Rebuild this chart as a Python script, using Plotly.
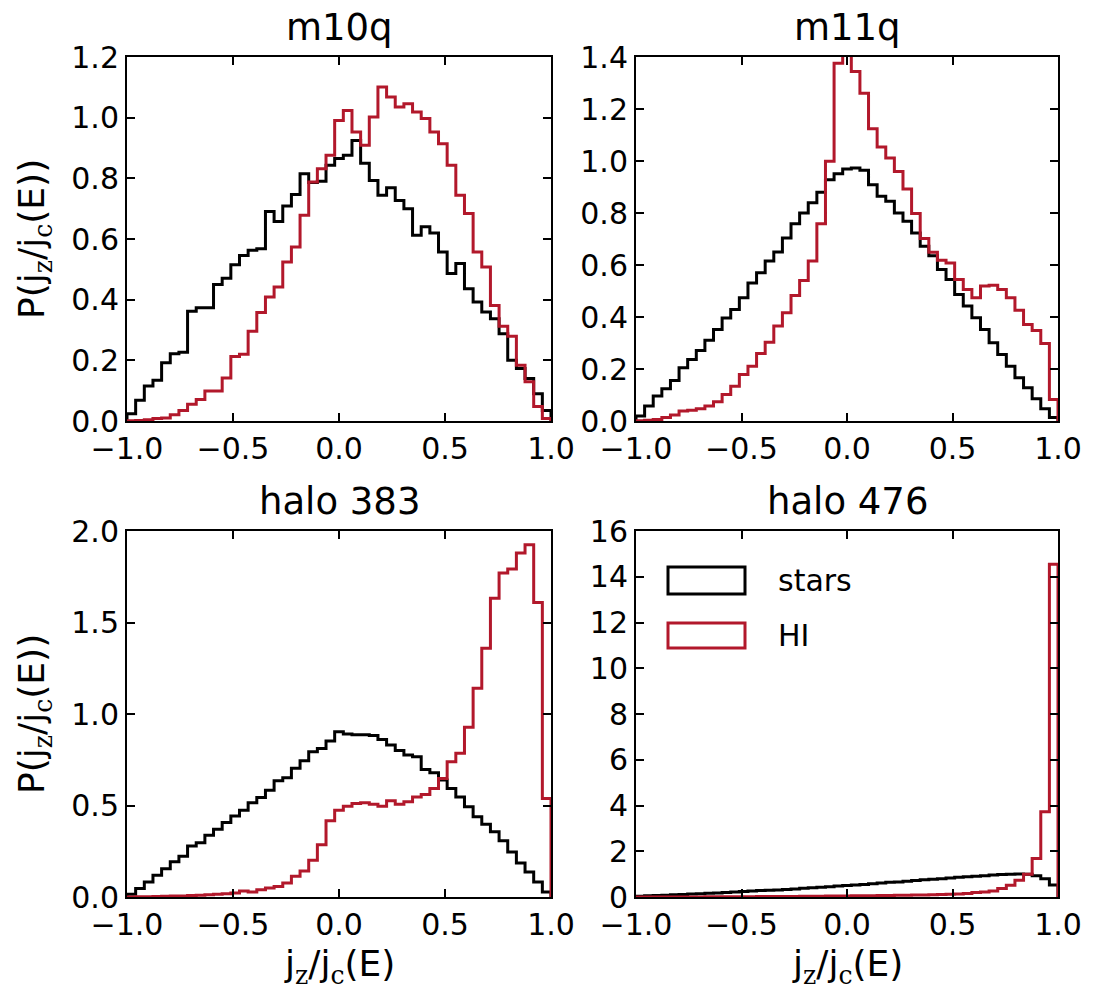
import numpy as np
import plotly.graph_objects as go

# ---------------- data (49 bins between -1 and 1) ----------------
bin_edges = np.linspace(-1.0, 1.0, 50)

m10q_stars = [0.024, 0.068, 0.115, 0.134, 0.192, 0.222, 0.227, 0.362, 0.373, 0.373,
              0.450, 0.471, 0.515, 0.546, 0.563, 0.568, 0.691, 0.658, 0.709, 0.747,
              0.815, 0.786, 0.790, 0.843, 0.865, 0.876, 0.925, 0.850, 0.793, 0.744,
              0.769, 0.727, 0.700, 0.612, 0.640, 0.620, 0.557, 0.486, 0.519, 0.436,
              0.392, 0.359, 0.337, 0.288, 0.200, 0.173, 0.140, 0.090, 0.035]
m10q_hi = [0.001, 0.002, 0.004, 0.008, 0.010, 0.021, 0.035, 0.055, 0.071, 0.099,
           0.099, 0.142, 0.213, 0.220, 0.296, 0.358, 0.409, 0.442, 0.524, 0.574,
           0.678, 0.788, 0.832, 0.876, 0.991, 1.024, 0.953, 0.909, 1.002, 1.101,
           1.068, 1.035, 1.046, 1.019, 0.997, 0.953, 0.914, 0.843, 0.744, 0.684,
           0.557, 0.508, 0.381, 0.312, 0.279, 0.184, 0.129, 0.048, 0.008]

m11q_stars = [0.019, 0.058, 0.096, 0.124, 0.156, 0.205, 0.237, 0.271, 0.311, 0.352,
              0.396, 0.429, 0.474, 0.531, 0.570, 0.615, 0.650, 0.704, 0.759, 0.800,
              0.839, 0.880, 0.928, 0.951, 0.969, 0.973, 0.964, 0.909, 0.864, 0.845,
              0.800, 0.768, 0.723, 0.672, 0.636, 0.583, 0.544, 0.487, 0.442, 0.397,
              0.352, 0.301, 0.256, 0.211, 0.166, 0.128, 0.086, 0.047, 0.013]
m11q_hi = [0.001, 0.003, 0.006, 0.013, 0.023, 0.038, 0.041, 0.047, 0.058, 0.074,
           0.102, 0.134, 0.179, 0.211, 0.260, 0.303, 0.365, 0.416, 0.483, 0.540,
           0.615, 0.759, 0.999, 1.376, 1.420, 1.344, 1.261, 1.124, 1.054, 1.012,
           0.960, 0.892, 0.798, 0.702, 0.649, 0.618, 0.608, 0.544, 0.506, 0.474,
           0.519, 0.522, 0.506, 0.474, 0.426, 0.371, 0.348, 0.298, 0.083]

halo383_stars = [0.015, 0.046, 0.082, 0.119, 0.155, 0.192, 0.223, 0.279, 0.297, 0.338,
                 0.370, 0.407, 0.443, 0.474, 0.515, 0.544, 0.584, 0.635, 0.651, 0.703,
                 0.745, 0.794, 0.812, 0.852, 0.903, 0.891, 0.887, 0.887, 0.883, 0.861,
                 0.830, 0.800, 0.776, 0.766, 0.697, 0.679, 0.639, 0.593, 0.547, 0.493,
                 0.438, 0.398, 0.356, 0.307, 0.246, 0.186, 0.137, 0.082, 0.027]
halo383_hi = [0.000, 0.001, 0.002, 0.003, 0.004, 0.005, 0.006, 0.008, 0.010, 0.012,
              0.015, 0.018, 0.022, 0.033, 0.027, 0.040, 0.049, 0.058, 0.077, 0.113,
              0.142, 0.201, 0.286, 0.416, 0.474, 0.496, 0.511, 0.515, 0.507, 0.496,
              0.526, 0.507, 0.520, 0.547, 0.560, 0.593, 0.648, 0.739, 0.785, 0.927,
              1.141, 1.359, 1.633, 1.770, 1.792, 1.880, 1.925, 1.609, 0.538]

halo476_stars = [0.03, 0.05, 0.07, 0.08, 0.10, 0.11, 0.13, 0.14, 0.16, 0.18,
                 0.20, 0.22, 0.24, 0.26, 0.28, 0.29, 0.31, 0.33, 0.35, 0.38,
                 0.40, 0.43, 0.45, 0.48, 0.50, 0.53, 0.55, 0.58, 0.61, 0.64,
                 0.66, 0.69, 0.72, 0.75, 0.78, 0.80, 0.83, 0.86, 0.88, 0.91,
                 0.93, 0.96, 0.98, 1.00, 1.01, 0.99, 0.93, 0.80, 0.52]
halo476_hi = [0.000, 0.000, 0.000, 0.000, 0.000, 0.005, 0.005, 0.005, 0.010, 0.010,
              0.010, 0.010, 0.015, 0.015, 0.020, 0.020, 0.020, 0.025, 0.025, 0.030,
              0.030, 0.035, 0.040, 0.040, 0.045, 0.050, 0.055, 0.060, 0.065, 0.070,
              0.075, 0.080, 0.085, 0.090, 0.100, 0.110, 0.120, 0.130, 0.150, 0.200,
              0.220, 0.260, 0.370, 0.510, 0.730, 0.990, 1.680, 3.730, 14.550]

titles = ["m10q", "m11q", "halo 383", "halo 476"]
stars_sets = [m10q_stars, m11q_stars, halo383_stars, halo476_stars]
hi_sets = [m10q_hi, m11q_hi, halo383_hi, halo476_hi]
y_ranges = [[0, 1.2], [0, 1.4], [0, 2.0], [0, 16]]
y_dticks = [0.2, 0.2, 0.5, 2]
y_formats = [".1f", ".1f", ".1f", "d"]
x_ticks = [-1.0, -0.5, 0.0, 0.5, 1.0]
series_names = ["stars", "HI"]

# ---------------- styling ----------------
W, H = 1101, 1005
BLACK = "#000000"
RED = "#b2182b"
FONT = "DejaVu Sans"
TICK_SIZE = 30
LABEL_SIZE = 36
TITLE_SIZE = 37

# panel pixel boxes: (left, right, top, bottom)
boxes = [(127, 551, 57, 421), (636, 1058, 57, 421),
         (127, 551, 531, 897), (636, 1058, 531, 897)]


def px_x(p):
    return p / W


def px_y(p):
    return 1 - p / H


def step_xy(vals):
    e = list(bin_edges)
    xs = [e[0]] + e[:-1] + [e[-1], e[-1]]
    ys = [0.0] + list(vals) + [vals[-1], 0.0]
    return xs, ys


fig = go.Figure()
layout = {}
annotations = []

for i in range(4):
    ax = "" if i == 0 else str(i + 1)
    xref = "x" + ax
    yref = "y" + ax
    l, r, t, b = boxes[i]
    for vals, col, name in [(stars_sets[i], BLACK, series_names[0]),
                            (hi_sets[i], RED, series_names[1])]:
        xs, ys = step_xy(vals)
        fig.add_trace(go.Scatter(x=xs, y=ys, mode="lines", line_shape="hv",
                                 line=dict(color=col, width=3),
                                 name=name, showlegend=False,
                                 xaxis=xref, yaxis=yref))
    common = dict(showline=True, linecolor=BLACK, linewidth=2, mirror="ticks",
                  ticks="inside", ticklen=8, tickwidth=1.5, tickcolor=BLACK,
                  showgrid=False, zeroline=False, automargin=False,
                  tickfont=dict(family=FONT, size=TICK_SIZE, color=BLACK))
    layout["xaxis" + ax] = dict(domain=[px_x(l), px_x(r)], range=[-1, 1],
                                anchor=yref, tickvals=x_ticks, tickformat=".1f",
                                **common)
    layout["yaxis" + ax] = dict(domain=[px_y(b), px_y(t)], range=y_ranges[i],
                                anchor=xref, dtick=y_dticks[i], tick0=0,
                                tickformat=y_formats[i], **common)
    annotations.append(dict(text=titles[i], xref="paper", yref="paper",
                            x=px_x((l + r) / 2), y=px_y(t - 6), xanchor="center",
                            yanchor="bottom", showarrow=False,
                            font=dict(family=FONT, size=TITLE_SIZE, color=BLACK)))

serif = "font-family:DejaVu Serif"
jlabel = ("j<sub><span style=\"%s\">z</span></sub>/j<sub><span style=\"%s\">c</span></sub>(E)"
          % (serif, serif))
ylabel = "P(" + jlabel + ")"

for (l, r, t, b) in [boxes[0], boxes[2]]:
    annotations.append(dict(text=ylabel, xref="paper", yref="paper",
                            x=px_x(34), y=px_y((t + b) / 2), textangle=-90,
                            xanchor="center", yanchor="middle", showarrow=False,
                            font=dict(family=FONT, size=LABEL_SIZE, color=BLACK)))
for (l, r, t, b) in [boxes[2], boxes[3]]:
    annotations.append(dict(text=jlabel, xref="paper", yref="paper",
                            x=px_x((l + r) / 2), y=px_y(966),
                            xanchor="center", yanchor="middle", showarrow=False,
                            font=dict(family=FONT, size=LABEL_SIZE, color=BLACK)))

# legend drawn inside the halo 476 panel
shapes = []
leg = [(567, 594, BLACK, series_names[0]), (623, 648, RED, series_names[1])]
for (yt, yb, col, name) in leg:
    shapes.append(dict(type="rect", xref="paper", yref="paper",
                       x0=px_x(668), x1=px_x(745), y0=px_y(yb), y1=px_y(yt),
                       line=dict(color=col, width=3), fillcolor="rgba(0,0,0,0)"))
    annotations.append(dict(text=name, xref="paper", yref="paper",
                            x=px_x(776), y=px_y((yt + yb) / 2),
                            xanchor="left", yanchor="middle", showarrow=False,
                            font=dict(family=FONT, size=TICK_SIZE, color=BLACK)))

fig.update_layout(width=W, height=H, margin=dict(l=0, r=0, t=0, b=0),
                  paper_bgcolor="white", plot_bgcolor="white",
                  annotations=annotations, shapes=shapes, showlegend=False,
                  **layout)

fig.write_html("out.html")
